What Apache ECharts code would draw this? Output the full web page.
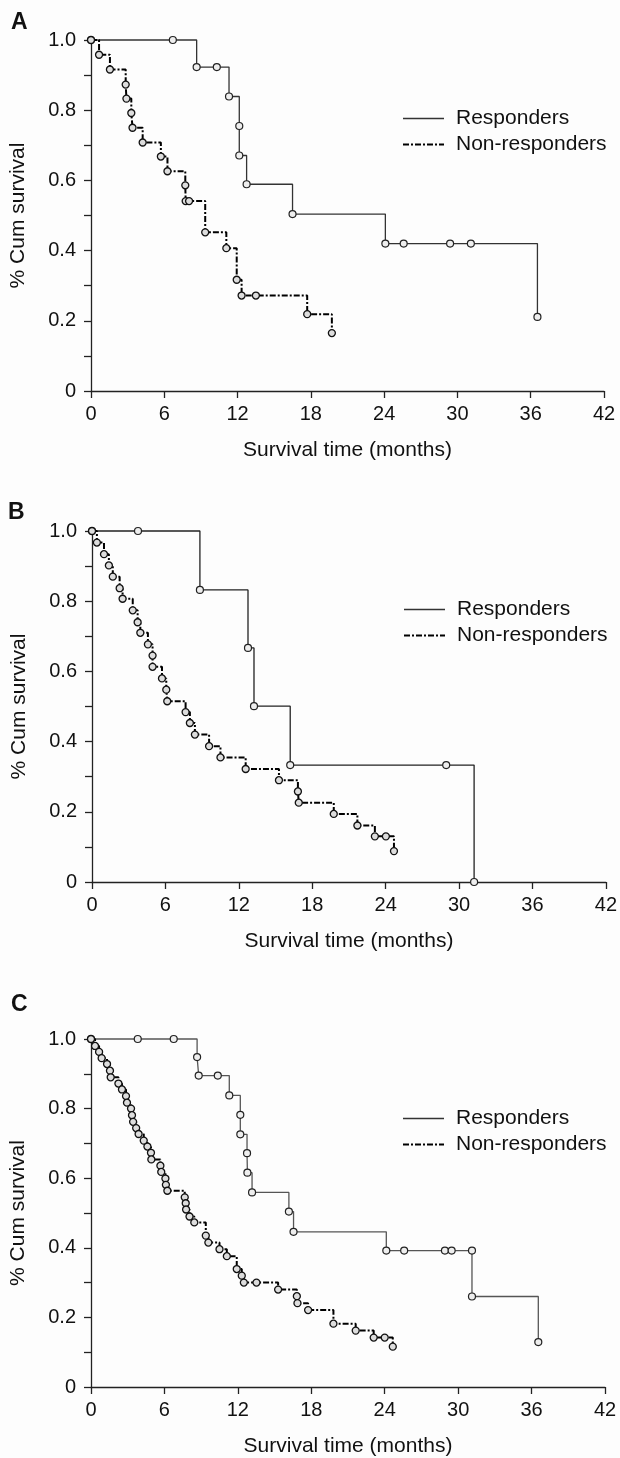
<!DOCTYPE html>
<html>
<head>
<meta charset="utf-8">
<script src="https://cdn.jsdelivr.net/npm/echarts@6/dist/echarts.min.js"></script>
<style>
html,body{margin:0;padding:0;background:#fdfdfd;}
#chart{width:620px;height:1458px;}
</style>
</head>
<body>
<div id="chart"></div>
<script>
// ---- Data (time in months, cumulative survival) ----
const panelLabels = ['A', 'B', 'C'];
const seriesNames = ['Responders', 'Non-responders'];
const xTicks = [0, 6, 12, 18, 24, 30, 36, 42];
const yTickLabels = ['0', '', '0.2', '', '0.4', '', '0.6', '', '0.8', '', '1.0'];

// Panel A
const respA_t = [0, 6.7, 8.65, 10.3, 11.3, 12.14, 12.14, 12.74, 16.5, 24.1, 25.6, 29.4, 31.1, 36.55];
const respA_s = [1, 1, 0.923, 0.923, 0.839, 0.755, 0.671, 0.589, 0.504, 0.420, 0.420, 0.420, 0.420, 0.211];
const nonA_t = [0, 0.66, 1.55, 2.84, 2.9, 3.3, 3.4, 4.23, 5.72, 6.26, 7.72, 7.75, 8.03, 9.35, 11.08, 11.93, 12.33, 13.5, 17.7, 19.72];
const nonA_s = [1, 0.958, 0.916, 0.873, 0.833, 0.792, 0.750, 0.708, 0.668, 0.626, 0.586, 0.541, 0.541, 0.452, 0.407, 0.317, 0.272, 0.272, 0.219, 0.165];

// Panel B
const respB_t = [0, 3.76, 8.82, 12.75, 13.24, 16.2, 28.95, 31.23];
const respB_s = [1, 1, 0.832, 0.667, 0.501, 0.333, 0.333, 0];
const nonB_t = [0, 0.4, 0.98, 1.38, 1.7, 2.26, 2.5, 3.33, 3.73, 3.95, 4.57, 4.95, 4.95, 5.72, 6.07, 6.15, 7.65, 8.0, 8.41, 9.57, 10.5, 12.56, 15.28, 16.83, 16.9, 19.76, 21.69, 23.12, 24.02, 24.68];
const nonB_s = [1, 0.967, 0.934, 0.902, 0.870, 0.837, 0.807, 0.774, 0.740, 0.710, 0.677, 0.645, 0.613, 0.580, 0.548, 0.515, 0.484, 0.453, 0.420, 0.387, 0.355, 0.322, 0.290, 0.258, 0.226, 0.194, 0.161, 0.130, 0.130, 0.088];

// Panel C
const respC_t = [0, 3.82, 6.76, 8.67, 8.8, 10.36, 11.3, 12.2, 12.2, 12.75, 12.78, 13.16, 16.17, 16.55, 24.13, 25.59, 28.92, 29.47, 31.13, 31.13, 36.55];
const respC_s = [1, 1, 1, 0.948, 0.895, 0.895, 0.838, 0.782, 0.726, 0.672, 0.616, 0.559, 0.504, 0.446, 0.392, 0.392, 0.392, 0.392, 0.392, 0.260, 0.129];
const nonC_t = [0, 0.33, 0.66, 0.87, 1.31, 1.55, 1.61, 2.24, 2.53, 2.86, 2.94, 3.27, 3.35, 3.44, 3.69, 3.89, 4.31, 4.61, 4.9, 4.93, 5.67, 5.74, 6.08, 6.12, 6.24, 7.66, 7.74, 7.77, 8.05, 8.44, 9.38, 9.59, 10.5, 11.1, 11.91, 12.32, 12.49, 13.52, 15.29, 16.82, 16.87, 17.74, 19.81, 21.63, 23.1, 24.0, 24.66];
const nonC_s = [1, 0.980, 0.963, 0.945, 0.928, 0.909, 0.890, 0.872, 0.855, 0.836, 0.817, 0.800, 0.781, 0.762, 0.744, 0.727, 0.708, 0.691, 0.673, 0.654, 0.636, 0.618, 0.599, 0.581, 0.564, 0.545, 0.528, 0.510, 0.490, 0.473, 0.435, 0.415, 0.396, 0.376, 0.339, 0.320, 0.300, 0.300, 0.280, 0.261, 0.241, 0.221, 0.182, 0.162, 0.142, 0.142, 0.116];

const panels = [
  {resp: [respA_t, respA_s], non: [nonA_t, nonA_s]},
  {resp: [respB_t, respB_s], non: [nonB_t, nonB_s]},
  {resp: [respC_t, respC_s], non: [nonC_t, nonC_s]}
];

// ---- Layout ----
const FONT = 'Liberation Sans, Arial, Helvetica, sans-serif';
const grids = [
  {left: 91, top: 40, width: 513, height: 351},
  {left: 92, top: 531, width: 514, height: 351},
  {left: 91, top: 1039, width: 514, height: 352}
];
const legendPos = [
  {left: 397, top: 103},
  {left: 398, top: 594},
  {left: 397, top: 1103}
];
const labelPos = [
  {left: 11, top: 11},
  {left: 8, top: 501},
  {left: 11, top: 993}
];
const respColors = ['#333', '#222', '#555'];

const pair = (t, s) => t.map((x, i) => [x, s[i]]);

const option = {
  backgroundColor: '#fdfdfd',
  animation: false,
  grid: grids,
  xAxis: grids.map((g, i) => ({
    gridIndex: i, type: 'value', min: xTicks[0], max: xTicks[xTicks.length - 1], interval: 6,
    name: 'Survival time (months)', nameLocation: 'middle', nameGap: 49,
    nameTextStyle: {fontFamily: FONT, fontSize: 21, color: '#111'},
    axisLine: {show: true, onZero: false, lineStyle: {color: '#222', width: 1.3}},
    axisTick: {show: true, length: 7, lineStyle: {color: '#222', width: 1.3}},
    axisLabel: {fontFamily: FONT, fontSize: 20, color: '#111', margin: 13},
    splitLine: {show: false}
  })),
  yAxis: grids.map((g, i) => ({
    gridIndex: i, type: 'value', min: 0, max: 1, interval: 0.1,
    name: '% Cum survival', nameLocation: 'middle', nameGap: 62,
    nameTextStyle: {fontFamily: FONT, fontSize: 21, color: '#111'},
    axisLine: {show: true, onZero: false, lineStyle: {color: '#222', width: 1.3}},
    axisTick: {show: true, length: 7, lineStyle: {color: '#222', width: 1.3}},
    axisLabel: {fontFamily: FONT, fontSize: 20, color: '#111', margin: 15,
      formatter: (v, idx) => yTickLabels[Math.round(v * 10)]},
    splitLine: {show: false}
  })),
  legend: legendPos.map(p => ({
    orient: 'vertical', left: p.left, top: p.top,
    itemWidth: 41, itemHeight: 14, itemGap: 5,
    itemStyle: {opacity: 0},
    textStyle: {fontFamily: FONT, fontSize: 21, color: '#111', padding: [0, 0, 0, 7]},
    data: [
      {name: seriesNames[0], lineStyle: {width: 1.3}},
      {name: seriesNames[1], lineStyle: {width: 2}}
    ],
    selectedMode: false
  })),
  graphic: labelPos.map((p, i) => ({
    type: 'text', left: p.left, top: p.top,
    style: {text: panelLabels[i], font: 'bold 23px ' + FONT, fill: '#111'}
  })),
  series: []
};

panels.forEach((p, i) => {
  option.series.push({
    name: seriesNames[0], type: 'line', xAxisIndex: i, yAxisIndex: i,
    step: 'end', data: pair(p.resp[0], p.resp[1]), clip: false,
    symbol: 'circle', symbolSize: 7, showAllSymbol: true,
    lineStyle: {color: respColors[i], width: 1.3, type: 'solid'},
    itemStyle: {color: '#eee', borderColor: '#222', borderWidth: 1.2},
    emphasis: {disabled: true}, z: 3
  });
  option.series.push({
    name: seriesNames[1], type: 'line', xAxisIndex: i, yAxisIndex: i,
    step: 'end', data: pair(p.non[0], p.non[1]), clip: false,
    symbol: 'circle', symbolSize: 7, showAllSymbol: true,
    lineStyle: {color: '#000', width: 2, type: [6, 2, 2, 2]},
    itemStyle: {color: '#ddd', borderColor: '#111', borderWidth: 1.3},
    emphasis: {disabled: true}, z: 4
  });
});

const chart = echarts.init(document.getElementById('chart'), null, {renderer: 'canvas'});
chart.setOption(option);
</script>
</body>
</html>
